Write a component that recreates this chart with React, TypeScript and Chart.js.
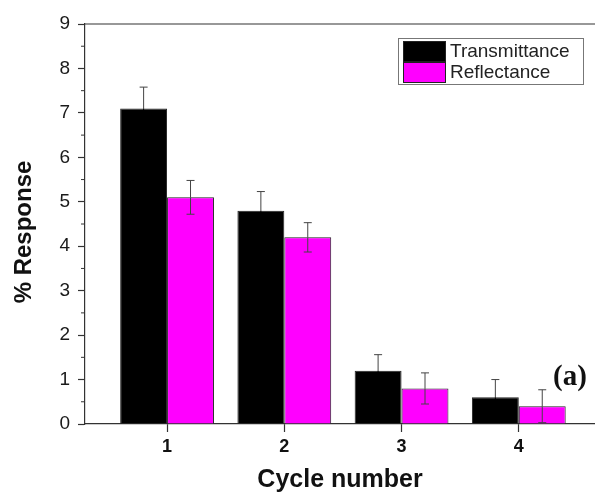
import React, { useEffect, useRef } from 'react';
import { Chart, registerables } from 'chart.js';

Chart.register(...registerables);

const categories = [1, 2, 3, 4];
const transmittance = [7.1, 4.8, 1.2, 0.6];
const transmittanceErr = [0.48, 0.43, 0.36, 0.4];
const reflectance = [5.1, 4.2, 0.8, 0.4];
const reflectanceErr = [0.38, 0.33, 0.35, 0.37];
const seriesNames = ['Transmittance', 'Reflectance'];
const seriesColors = ['#000000', '#ff00ff'];
const yMin = 0;
const yMax = 9;
const xTitle = 'Cycle number';
const yTitle = '% Response';
const panelLabel = '(a)';

const errors = [transmittanceErr, reflectanceErr];
const AXIS = '#333333';
const SANS = '"Liberation Sans", Arial, sans-serif';

const extrasPlugin = {
  id: 'extras',
  afterDatasetsDraw(chart: any) {
    const ctx = chart.ctx;
    const ys = chart.scales.y;
    const area = chart.chartArea;
    ctx.save();
    // error bars
    chart.data.datasets.forEach((ds: any, di: number) => {
      const meta = chart.getDatasetMeta(di);
      meta.data.forEach((el: any, i: number) => {
        const v = ds.data[i].y;
        const e = errors[di][i];
        const x = el.x;
        const y0 = ys.getPixelForValue(v);
        const yt = ys.getPixelForValue(v + e);
        const yb = ys.getPixelForValue(v - e);
        ctx.lineWidth = 1;
        ctx.strokeStyle = '#444444';
        ctx.beginPath();
        ctx.moveTo(x, yt);
        ctx.lineTo(x, y0);
        ctx.moveTo(x - 4, yt);
        ctx.lineTo(x + 4, yt);
        ctx.stroke();
        ctx.strokeStyle = di === 0 ? '#000000' : '#444444';
        ctx.beginPath();
        ctx.moveTo(x, y0);
        ctx.lineTo(x, yb);
        ctx.moveTo(x - 4, yb);
        ctx.lineTo(x + 4, yb);
        ctx.stroke();
      });
    });
    // top frame
    ctx.strokeStyle = AXIS;
    ctx.lineWidth = 1.2;
    ctx.beginPath();
    ctx.moveTo(area.left, area.top);
    ctx.lineTo(area.right, area.top);
    ctx.stroke();
    // minor ticks y
    ctx.lineWidth = 1;
    for (let v = yMin + 0.5; v < yMax; v += 1) {
      const py = ys.getPixelForValue(v);
      ctx.beginPath();
      ctx.moveTo(area.left - 4, py);
      ctx.lineTo(area.left, py);
      ctx.stroke();
    }
    // legend
    const lx = 398, ly = 38, lw = 185, lh = 46;
    ctx.fillStyle = '#ffffff';
    ctx.fillRect(lx, ly, lw, lh);
    ctx.strokeStyle = '#777777';
    ctx.lineWidth = 1;
    ctx.strokeRect(lx + 0.5, ly + 0.5, lw, lh);
    seriesNames.forEach((name, i) => {
      const sy = ly + 3 + i * 21;
      ctx.fillStyle = seriesColors[i];
      ctx.fillRect(403, sy, 43, 21);
      ctx.strokeStyle = '#222222';
      ctx.strokeRect(403.5, sy + 0.5, 42, 20);
      ctx.fillStyle = '#222222';
      ctx.font = '19px ' + SANS;
      ctx.textBaseline = 'middle';
      ctx.textAlign = 'left';
      ctx.fillText(name, 450, sy + 11);
    });
    // y title
    ctx.save();
    ctx.translate(24, 232);
    ctx.rotate(-Math.PI / 2);
    ctx.fillStyle = '#111111';
    ctx.font = 'bold 24px ' + SANS;
    ctx.textAlign = 'center';
    ctx.textBaseline = 'middle';
    ctx.fillText(yTitle, 0, 0);
    ctx.restore();
    // panel label
    ctx.fillStyle = '#111111';
    ctx.font = 'bold 29px "Liberation Serif", "Times New Roman", serif';
    ctx.textAlign = 'center';
    ctx.textBaseline = 'middle';
    ctx.fillText(panelLabel, 570, 378);
    ctx.restore();
  },
};

export default function App() {
  const ref = useRef<HTMLCanvasElement | null>(null);
  useEffect(() => {
    if (!ref.current) return;
    const chart = new Chart(ref.current, {
      type: 'bar',
      data: {
        datasets: [
          {
            label: seriesNames[0],
            data: categories.map((c, i) => ({ x: c, y: transmittance[i] })),
            backgroundColor: seriesColors[0],
            borderColor: '#222222',
            borderWidth: 1,
          },
          {
            label: seriesNames[1],
            data: categories.map((c, i) => ({ x: c, y: reflectance[i] })),
            backgroundColor: seriesColors[1],
            borderColor: '#222222',
            borderWidth: 1,
          },
        ],
      },
      options: {
        animation: false,
        responsive: false,
        maintainAspectRatio: false,
        layout: { padding: { top: 24, right: 0, left: 0, bottom: 0 } },
        datasets: { bar: { categoryPercentage: 0.8, barPercentage: 1.0 } },
        plugins: { legend: { display: false }, tooltip: { enabled: false } },
        scales: {
          x: {
            type: 'linear',
            min: 0.3,
            max: 4.65,
            offset: false,
            afterBuildTicks: (scale: any) => {
              scale.ticks = categories.map((v) => ({ value: v }));
            },
            afterFit: (scale: any) => {
              scale.height = 69;
            },
            grid: {
              offset: false,
              drawOnChartArea: false,
              drawTicks: true,
              tickLength: 8,
              tickColor: AXIS,
              tickWidth: 1.2,
            },
            border: { display: true, color: AXIS, width: 1.2 },
            ticks: {
              padding: 4,
              color: '#111111',
              font: { family: SANS, size: 18, weight: 'bold' },
              callback: (v: any) => String(v),
              maxRotation: 0,
            },
            title: {
              display: true,
              text: xTitle,
              color: '#111111',
              font: { family: SANS, size: 25, weight: 'bold', lineHeight: 1 },
              padding: { top: 0, bottom: 0 },
            },
          },
          y: {
            min: yMin,
            max: yMax,
            afterFit: (scale: any) => {
              scale.width = 85;
            },
            grid: {
              drawOnChartArea: false,
              drawTicks: true,
              tickLength: 7,
              tickColor: AXIS,
              tickWidth: 1.2,
            },
            border: { display: true, color: AXIS, width: 1.2 },
            ticks: {
              stepSize: 1,
              padding: 8,
              color: '#1a1a1a',
              font: { family: SANS, size: 19 },
            },
          },
        },
      } as any,
      plugins: [extrasPlugin],
    });
    return () => chart.destroy();
  }, []);
  return (
    <div style={{ position: 'fixed', left: 0, top: 0, width: 595, height: 493, background: '#fff' }}>
      <canvas ref={ref} width={595} height={493} style={{ width: 595, height: 493, display: 'block' }} />
    </div>
  );
}
